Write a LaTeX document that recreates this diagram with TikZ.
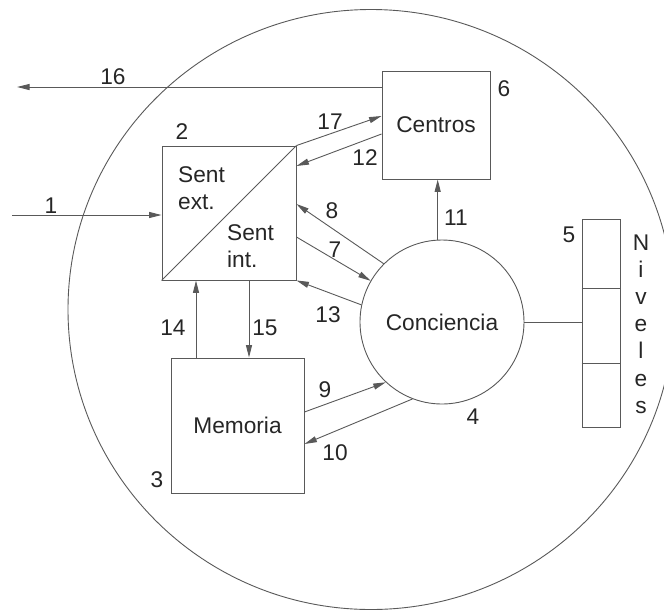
\documentclass[tikz,border=0pt]{standalone}
\usepackage{fontspec}
\setmainfont{Liberation Sans}
\usetikzlibrary{arrows.meta}
\begin{document}
\begin{tikzpicture}[x=1pt,y=-1pt,
  ln/.style={draw=black!65,line width=0.9pt},
  arr/.style={ln,-{Triangle[length=12.5pt,width=6pt]}},
  box/.style={ln,rectangle,inner sep=0pt},
  every node/.style={text=black!85,font=\fontsize{22.7}{27}\selectfont}]
\useasboundingbox (0,0) rectangle (664,611);
\clip (0,0) rectangle (664,611);
% outer circle
\draw[ln] (371,309.5) ellipse[x radius=303pt, y radius=300pt];
% boxes
\node[box,minimum width=134pt,minimum height=134pt] (sent) at (229,213) {};
\node[box,minimum width=108pt,minimum height=108pt] (cen) at (436,125) {Centros};
\node[box,minimum width=133pt,minimum height=135pt] (mem) at (237.5,425.5) {Memoria};
\node[ln,circle,minimum size=164pt,inner sep=0pt] (conc) at (442,322) {Conciencia};
\node[box,minimum width=38pt,minimum height=208pt] (niv) at (601,323) {};
% inner details
\draw[ln] (sent.south west) -- (sent.north east);
\draw[ln] (niv.west |- 0,288) -- (niv.east |- 0,288);
\draw[ln] (niv.west |- 0,363) -- (niv.east |- 0,363);
\node[anchor=west,align=left,inner sep=0pt] (sext) at (178,188.5) {Sent\\ext.};
\node[anchor=west,align=left,inner sep=0pt] (sint) at (227,246) {Sent\\int.};
\foreach \ch/\yy [count=\k] in {N/250,i/277,v/304,e/331,l/358,e/386,s/413}
  \node[anchor=base,inner sep=0pt] (nv\k) at (641,\yy) {\ch};
% free ends
\coordinate (in1) at (12,215);
\coordinate (out16) at (17,87);
% connectors
\draw[arr] (in1) -- (sent.west |- in1);
\draw[arr] (cen.west |- out16) -- (out16);
\draw[arr] (sent.north east) -- (cen.west |- 0,116);
\draw[arr] (cen.west |- 0,134) -- (sent.east |- 0,166);
\draw[arr] (conc.135) -- (sent.east |- 0,204);
\draw[arr] (sent.east |- 0,237) -- (conc.150);
\draw[arr] (conc.168) -- (sent.south east);
\draw[arr] (mem.north -| 196,0) -- (sent.south -| 196,0);
\draw[arr] (sent.south -| 249,0) -- (mem.north -| 249,0);
\draw[arr] (mem.east |- 0,412) -- (conc.227);
\draw[arr] (conc.249) -- (mem.east |- 0,444);
\draw[arr] (conc.93) -- (conc.93 |- cen.south);
\draw[ln] (conc.east) -- (niv.west |- conc.east);
% number labels
\foreach \t/\xx/\yy in {1/51/206, 2/182/132, 3/157/480, 4/473/417, 5/569/235,
  6/504/89, 7/335/250, 8/332/211, 9/325/390, 10/335/453, 11/456/218,
  12/365/158, 13/328/315, 14/173/328, 15/265/328, 16/113/77, 17/330/122}
  \node[inner sep=0pt] (n\t) at (\xx,\yy) {\t};
\end{tikzpicture}
\end{document}
